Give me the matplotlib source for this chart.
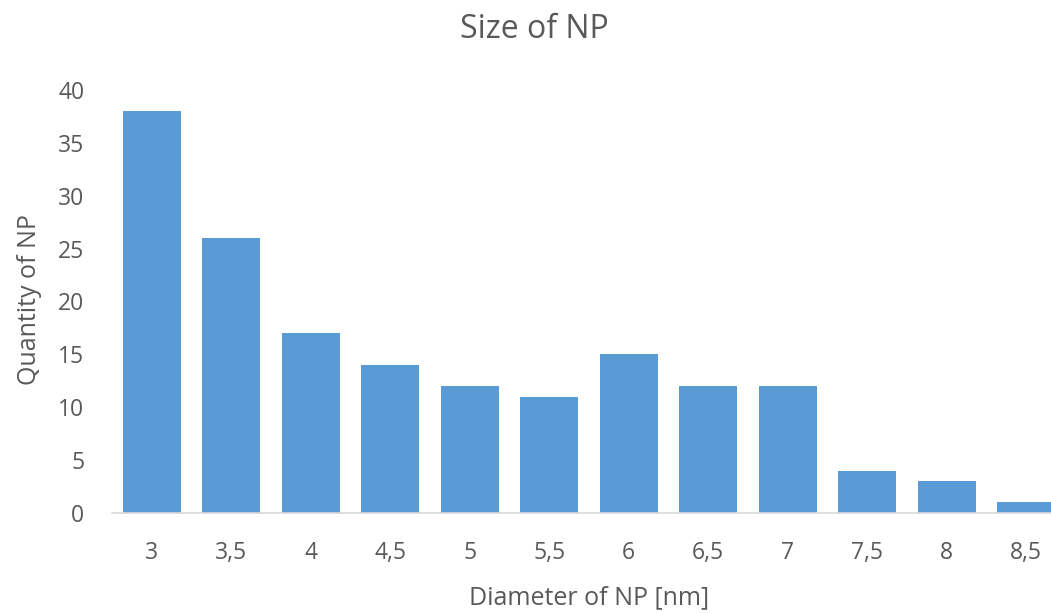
import matplotlib
matplotlib.use("Agg")
import matplotlib.pyplot as plt

diameters = ["3", "3,5", "4", "4,5", "5", "5,5", "6", "6,5", "7", "7,5", "8", "8,5"]
quantities = [38, 26, 17, 14, 12, 11, 15, 12, 12, 4, 3, 1]
y_ticks = [0, 5, 10, 15, 20, 25, 30, 35, 40]

GRAY = "#595959"
BLUE = "#5B9BD5"

plt.rcParams["font.family"] = ["Open Sans", "DejaVu Sans"]

fig = plt.figure(figsize=(10.51, 6.13), dpi=100)
W, H = 1051, 613
left, right = 112 / W, 1066 / W
bottom, top = 1 - 513 / H, 1 - 90 / H
ax = fig.add_axes([left, bottom, right - left, top - bottom])

x = list(range(len(diameters)))
ax.bar(x, quantities, width=0.73, color=BLUE, zorder=2)

ax.set_xlim(-0.5, len(diameters) - 0.5)
ax.set_ylim(0, 40)
ax.set_yticks(y_ticks)
ax.set_xticks(x)
ax.set_xticklabels(diameters)

for s in ["top", "right", "left"]:
    ax.spines[s].set_visible(False)
ax.spines["bottom"].set_color("#D9D9D9")
ax.spines["bottom"].set_linewidth(1.2)
ax.tick_params(axis="both", length=0, labelsize=16.5, colors=GRAY)
ax.tick_params(axis="y", pad=20)
ax.tick_params(axis="x", pad=20)

# axis labels and title placed in figure pixels
fig.text(589 / W, 1 - 598 / H, "Diameter of NP [nm]", fontsize=18, color=GRAY,
         ha="center", va="center")
fig.text(30 / W, 1 - 300 / H, "Quantity of NP", fontsize=18, color=GRAY,
         ha="center", va="center", rotation=90)
fig.text(534 / W, 1 - 30 / H, "Size of NP", fontsize=23, color=GRAY,
         ha="center", va="center")

fig.savefig("out.png", dpi=100)
